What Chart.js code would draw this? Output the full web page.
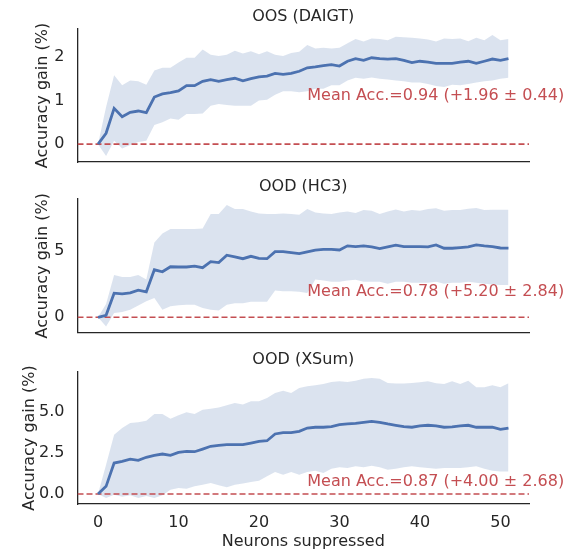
<!DOCTYPE html>
<html>
<head>
<meta charset="utf-8">
<script src="https://cdn.jsdelivr.net/npm/chart.js@4.4.1/dist/chart.umd.min.js"></script>
<style>
  body { margin: 0; background: #fff; }
  #wrap { position: relative; width: 576px; height: 552px; }
  canvas { position: absolute; left: 0; }
</style>
</head>
<body>
<div id="wrap">
  <canvas id="panel1" width="576" height="172" style="top:0px"></canvas>
  <canvas id="panel2" width="576" height="173" style="top:170px"></canvas>
  <canvas id="panel3" width="576" height="209" style="top:343px"></canvas>
</div>
<script>
const neurons = [0, 1, 2, 3, 4, 5, 6, 7, 8, 9, 10, 11, 12, 13, 14, 15, 16, 17, 18, 19, 20,
  21, 22, 23, 24, 25, 26, 27, 28, 29, 30, 31, 32, 33, 34, 35, 36, 37, 38, 39, 40,
  41, 42, 43, 44, 45, 46, 47, 48, 49, 50, 51];
const xTicks = [0, 10, 20, 30, 40, 50];

// OOS (DAIGT)
const daigtMean = [0, 0.25, 0.82, 0.63, 0.73, 0.76, 0.72, 1.08, 1.15, 1.18, 1.22, 1.34, 1.34, 1.44, 1.48, 1.44, 1.48, 1.51, 1.45, 1.50,
  1.54, 1.56, 1.62, 1.60, 1.62, 1.67, 1.75, 1.77, 1.80, 1.82, 1.79, 1.90, 1.96, 1.92, 1.98, 1.96, 1.95, 1.96, 1.92, 1.87,
  1.90, 1.88, 1.85, 1.85, 1.85, 1.88, 1.90, 1.85, 1.90, 1.95, 1.92, 1.96];
const daigtUpper = [0, 0.85, 1.58, 1.35, 1.46, 1.44, 1.36, 1.69, 1.75, 1.75, 1.87, 1.98, 1.98, 2.17, 2.05, 2.02, 2.05, 2.14, 2.08, 2.13,
  2.06, 2.13, 2.05, 2.02, 2.09, 2.12, 2.27, 2.19, 2.21, 2.19, 2.21, 2.31, 2.41, 2.35, 2.42, 2.41, 2.38, 2.46, 2.45, 2.44,
  2.42, 2.40, 2.35, 2.42, 2.41, 2.42, 2.36, 2.44, 2.38, 2.50, 2.38, 2.41];
const daigtLower = [0, -0.27, 0.08, -0.10, -0.02, 0.05, 0.08, 0.44, 0.50, 0.59, 0.56, 0.69, 0.69, 0.70, 0.88, 0.92, 0.90, 0.88, 0.88, 0.88,
  1.00, 1.02, 1.13, 1.21, 1.21, 1.19, 1.21, 1.27, 1.27, 1.35, 1.35, 1.46, 1.52, 1.50, 1.53, 1.50, 1.48, 1.46, 1.44, 1.41,
  1.41, 1.38, 1.33, 1.31, 1.36, 1.35, 1.38, 1.41, 1.44, 1.46, 1.50, 1.52];

// OOD (HC3)
const hc3Mean = [0, 0.15, 1.83, 1.78, 1.85, 2.06, 1.93, 3.60, 3.45, 3.83, 3.81, 3.81, 3.88, 3.76, 4.21, 4.14, 4.70, 4.57, 4.44, 4.62,
  4.47, 4.44, 4.97, 4.97, 4.90, 4.82, 4.95, 5.08, 5.15, 5.15, 5.10, 5.41, 5.36, 5.41, 5.33, 5.20, 5.33, 5.46, 5.36, 5.36,
  5.36, 5.33, 5.48, 5.23, 5.23, 5.28, 5.33, 5.48, 5.41, 5.36, 5.25, 5.24];
const hc3Upper = [0, 1.00, 3.20, 3.05, 3.05, 3.20, 2.87, 5.66, 6.35, 6.68, 6.68, 6.68, 6.68, 6.73, 7.82, 7.82, 8.50, 8.20, 8.20, 8.02,
  7.87, 7.82, 7.82, 7.87, 7.82, 7.77, 8.20, 7.94, 7.87, 7.82, 7.94, 8.02, 7.89, 8.12, 8.07, 7.82, 8.02, 8.17, 8.02, 8.12,
  8.07, 8.20, 8.25, 8.07, 8.12, 8.12, 8.22, 8.27, 8.12, 8.15, 8.15, 8.15];
const hc3Lower = [0, -0.69, 0.33, 0.41, 0.58, 0.89, 1.22, 1.47, 0.58, 0.84, 0.91, 0.96, 0.96, 0.71, 0.58, 0.51, 0.96, 1.07, 1.07, 1.17,
  1.17, 1.17, 2.03, 1.98, 1.98, 1.93, 1.85, 2.87, 2.79, 2.69, 2.69, 2.79, 2.84, 2.69, 2.69, 2.69, 2.54, 2.69, 2.69, 2.61,
  2.61, 2.61, 2.69, 2.54, 2.61, 2.61, 2.69, 2.61, 2.54, 2.49, 2.44, 2.44];

// OOD (XSum)
const xsumMean = [0, 0.47, 1.89, 1.99, 2.13, 2.05, 2.24, 2.36, 2.44, 2.36, 2.54, 2.60, 2.58, 2.74, 2.91, 2.97, 3.01, 3.01, 3.01, 3.11,
  3.21, 3.25, 3.66, 3.74, 3.74, 3.82, 4.02, 4.07, 4.07, 4.11, 4.23, 4.27, 4.31, 4.37, 4.43, 4.37, 4.27, 4.19, 4.11, 4.07,
  4.15, 4.19, 4.15, 4.07, 4.09, 4.15, 4.19, 4.07, 4.07, 4.07, 3.94, 4.02];
const xsumUpper = [0, 1.79, 3.62, 4.02, 4.33, 4.37, 4.47, 4.88, 4.88, 4.59, 4.80, 4.98, 4.88, 5.14, 5.20, 5.28, 5.41, 5.55, 5.45, 5.65,
  5.65, 5.85, 6.16, 6.30, 6.16, 6.46, 6.57, 6.63, 6.71, 6.83, 6.87, 6.83, 6.91, 7.03, 7.07, 7.03, 6.77, 6.73, 6.73, 6.77,
  6.81, 6.87, 6.75, 6.71, 6.87, 6.71, 6.91, 6.50, 6.50, 6.63, 6.50, 6.75];
const xsumLower = [0, -0.24, -0.04, -0.16, -0.08, -0.24, -0.12, -0.24, -0.08, 0.26, 0.37, 0.33, 0.47, 0.57, 0.67, 0.53, 0.41, 0.57, 0.65, 0.73,
  0.81, 1.08, 1.34, 1.18, 1.34, 1.18, 1.34, 1.42, 1.28, 1.54, 1.63, 1.59, 1.69, 1.63, 1.73, 1.63, 1.48, 1.54, 1.63, 1.69,
  1.63, 1.59, 1.54, 1.59, 1.59, 1.59, 1.63, 1.69, 1.54, 1.42, 1.38, 1.38];

const panelTitles = ['OOS (DAIGT)', 'OOD (HC3)', 'OOD (XSum)'];
const notes = [
  'Mean Acc.=0.94 (+1.96 ± 0.44)',
  'Mean Acc.=0.78 (+5.20 ± 2.84)',
  'Mean Acc.=0.87 (+4.00 ± 2.68)'
];
const yTickValues = [[0, 1, 2], [0, 5], [0, 2.5, 5]];
const yTickLabels = [['0', '1', '2'], ['0', '5'], ['0.0', '2.5', '5.0']];

const FONT = 'DejaVu Sans';
const SIZE = 16;
const TEXT = '#262626';
const BLUE = '#4C72B0';
const RED = '#C44E52';

const xPad = 0.05 * (neurons[neurons.length - 1] - neurons[0]);
const xMin = neurons[0] - xPad;
const xMax = neurons[neurons.length - 1] + xPad;

function pts(values) {
  return values.map((v, i) => ({ x: neurons[i], y: v }));
}

// red label placed at a data position, left aligned
const notePlugin = {
  id: 'note',
  afterDatasetsDraw(chart, args, opts) {
    const ctx = chart.ctx;
    const x = chart.scales.x.getPixelForValue(opts.x);
    const y = chart.scales.y.getPixelForValue(opts.y);
    ctx.save();
    ctx.font = SIZE + 'px "' + FONT + '"';
    ctx.fillStyle = RED;
    ctx.textAlign = 'left';
    ctx.textBaseline = 'middle';
    ctx.fillText(opts.text, x, y);
    ctx.restore();
  }
};

function criarPainel(canvasId, idx, mean, upper, lower, noteY, showX, xHeight, yTitleGap) {
  const ctx = document.getElementById(canvasId).getContext('2d');
  const lo = Math.min(...lower);
  const hi = Math.max(...upper);
  const pad = 0.05 * (hi - lo);
  const font = { family: FONT, size: SIZE };

  return new Chart(ctx, {
    type: 'line',
    data: {
      datasets: [
        {
          data: pts(mean),
          borderColor: BLUE,
          borderWidth: 2.8,
          pointRadius: 0,
          tension: 0,
          fill: false
        },
        {
          data: [{ x: xMin, y: 0 }, { x: xMax, y: 0 }],
          borderColor: RED,
          borderWidth: 1.6,
          borderDash: [6, 3],
          pointRadius: 0,
          fill: false
        },
        {
          data: pts(upper),
          borderColor: 'rgba(0,0,0,0)',
          borderWidth: 0,
          pointRadius: 0,
          tension: 0,
          backgroundColor: 'rgba(76,114,176,0.2)',
          fill: '+1'
        },
        {
          data: pts(lower),
          borderColor: 'rgba(0,0,0,0)',
          borderWidth: 0,
          pointRadius: 0,
          tension: 0,
          fill: false
        }
      ]
    },
    options: {
      responsive: false,
      animation: false,
      layout: { padding: { left: 0, right: 47, top: 0, bottom: 0 } },
      plugins: {
        legend: { display: false },
        tooltip: { enabled: false },
        title: {
          display: true,
          text: panelTitles[idx],
          fullSize: false,
          color: TEXT,
          font: { family: FONT, size: SIZE, weight: 'normal' },
          padding: { top: 7.4, bottom: 2.4 }
        },
        note: { text: notes[idx], x: 26, y: noteY }
      },
      scales: {
        x: {
          type: 'linear',
          min: xMin,
          max: xMax,
          grid: { display: false, drawTicks: false },
          border: { display: true, color: TEXT, width: 1.3 },
          ticks: { display: showX, color: TEXT, font: font, padding: 9 },
          afterBuildTicks: (s) => { s.ticks = xTicks.map(v => ({ value: v })); },
          afterFit: (s) => { s.height = xHeight; },
          title: {
            display: showX,
            text: 'Neurons suppressed',
            color: TEXT,
            font: font,
            padding: { top: 0, bottom: 0.4 }
          }
        },
        y: {
          type: 'linear',
          min: lo - pad,
          max: hi + pad,
          grid: {
            display: true,
            drawOnChartArea: false,
            drawTicks: true,
            tickLength: 13,
            tickColor: 'rgba(0,0,0,0)',
            color: 'rgba(0,0,0,0)'
          },
          border: { display: true, color: TEXT, width: 1.3 },
          ticks: {
            color: TEXT,
            font: font,
            padding: 0,
            callback: (v, i) => yTickLabels[idx][i]
          },
          afterBuildTicks: (s) => { s.ticks = yTickValues[idx].map(v => ({ value: v })); },
          afterFit: (s) => { s.width = 77.5; },
          title: {
            display: true,
            text: 'Accuracy gain (%)',
            color: TEXT,
            font: font,
            padding: { top: yTitleGap, bottom: 0 }
          }
        }
      }
    },
    plugins: [notePlugin]
  });
}

document.addEventListener('DOMContentLoaded', function () {
  criarPainel('panel1', 0, daigtMean, daigtUpper, daigtLower, 1.1, false, 10, 32.9);
  criarPainel('panel2', 1, hc3Mean, hc3Upper, hc3Lower, 1.92, false, 10.5, 32.9);
  criarPainel('panel3', 2, xsumMean, xsumUpper, xsumLower, 0.77, true, 48, 20.4);
});
</script>
</body>
</html>
